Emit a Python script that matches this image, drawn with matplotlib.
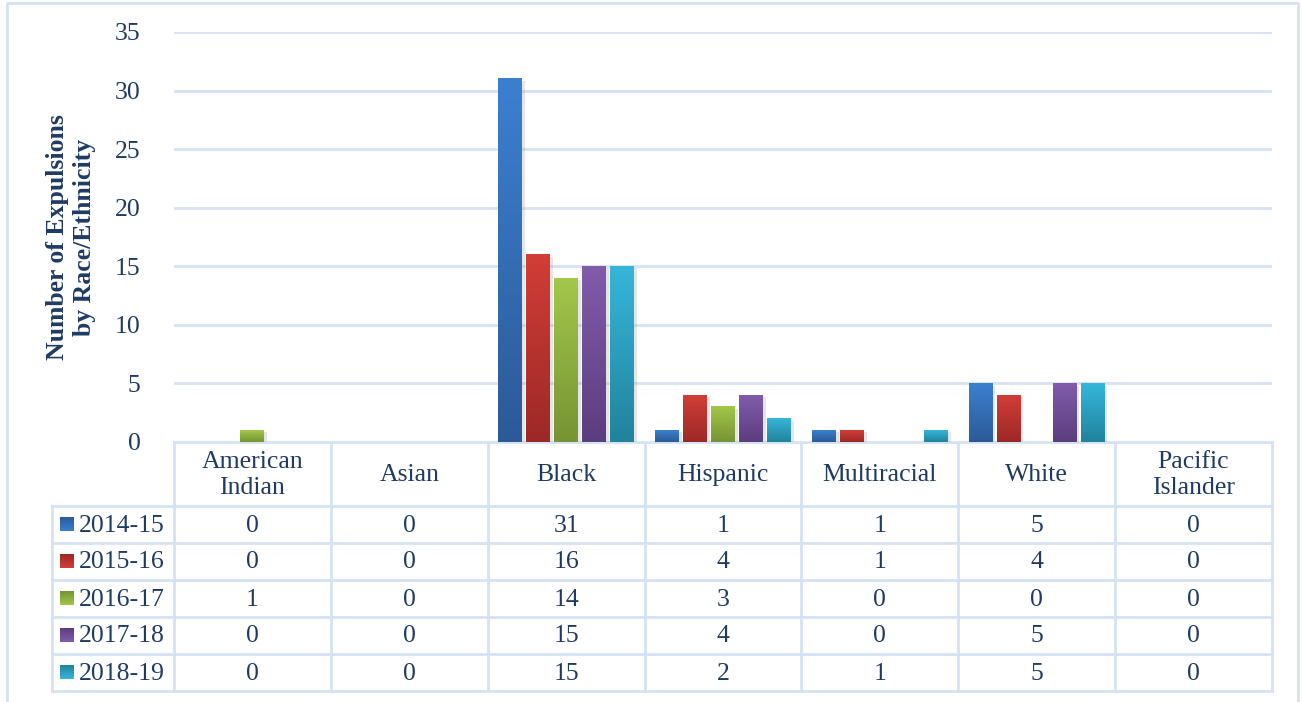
import numpy as np
import matplotlib.pyplot as plt
import matplotlib.patheffects as pe
from matplotlib.colors import LinearSegmentedColormap

# expulsions by race/ethnicity, five school years

categories = ["American\nIndian", "Asian", "Black", "Hispanic", "Multiracial", "White", "Pacific\nIslander"]
years = ["2014-15", "2015-16", "2016-17", "2017-18", "2018-19"]
v_2014 = [0, 0, 31, 1, 1, 5, 0]
v_2015 = [0, 0, 16, 4, 1, 4, 0]
v_2016 = [1, 0, 14, 3, 0, 0, 0]
v_2017 = [0, 0, 15, 4, 0, 5, 0]
v_2018 = [0, 0, 15, 2, 1, 5, 0]
series = [v_2014, v_2015, v_2016, v_2017, v_2018]

# (top colour, bottom colour) of the gradient fill
grads = [("#3b80d0", "#2c5a98"),
         ("#d23d37", "#9c2927"),
         ("#a3c74b", "#769433"),
         ("#805cab", "#5b3e7e"),
         ("#36b6da", "#21839c")]

txt = "#1f3b64"
grid_c = "#d6e2f2"
font = "Liberation Serif"
fs = 18.5

W, H = 1302, 702
fig = plt.figure(figsize=(W / 100, H / 100), dpi=100)

# pixel layout
x0, x1 = 174, 1272
y_top, y_zero = 32, 442
ax = fig.add_axes([x0 / W, 1 - y_zero / H, (x1 - x0) / W, (y_zero - y_top) / H])

n = len(categories)
x = np.arange(n)
bw = 0.153
step = 0.1785

shadow = [pe.SimplePatchShadow(offset=(2, -1.5), shadow_rgbFace="#999999", alpha=0.25), pe.Normal()]

for i, vals in enumerate(series):
    top, bot = grads[i]
    cmap = LinearSegmentedColormap.from_list("g%d" % i, [bot, top])
    bars = ax.bar(x + (i - 2) * step, vals, width=bw, color=bot, zorder=2, path_effects=shadow)
    for b in bars:
        h = b.get_height()
        if h <= 0:
            continue
        grad = np.linspace(0, 1, 100).reshape(-1, 1)
        ax.imshow(grad, extent=[b.get_x(), b.get_x() + b.get_width(), 0, h],
                  origin="lower", aspect="auto", cmap=cmap, zorder=3)

ax.set_xlim(-0.5, n - 0.5)
ax.set_ylim(0, 35)
ax.set_yticks(range(0, 36, 5))
ax.set_xticks([])
ax.yaxis.grid(True, color=grid_c, linewidth=2)
ax.set_axisbelow(True)
for s in ax.spines.values():
    s.set_visible(False)
ax.tick_params(axis="y", length=0, pad=24, labelsize=fs, labelcolor=txt)
for lab in ax.get_yticklabels():
    lab.set_fontfamily(font)

fig.text(71 / W, 1 - 237 / H, "Number of Expulsions\nby Race/Ethnicity", rotation=90,
         ha="center", va="center", fontsize=18.5, fontweight="bold", color=txt, family=font,
         linespacing=1.2)

# data table drawn in pixel space
tax = fig.add_axes([0, 0, 1, 1], zorder=-1)
tax.set_xlim(0, W)
tax.set_ylim(H, 0)
tax.axis("off")
lw = 2

col_w = (x1 - x0) / n
cols = [x0 + k * col_w for k in range(n + 1)]
rows = [442, 506, 543, 580, 617, 654, 691]
lab_x = 52

# outer chart frame
tax.plot([7, 7, 1298, 1298], [H, 3, 3, H], color=grid_c, lw=lw)

# horizontal lines
tax.plot([x0, x1], [rows[0], rows[0]], color=grid_c, lw=lw)
for r in rows[1:]:
    tax.plot([lab_x, x1], [r, r], color=grid_c, lw=lw)
for c in cols:
    tax.plot([c, c], [rows[0], rows[-1]], color=grid_c, lw=lw)
tax.plot([lab_x, lab_x], [rows[1], rows[-1]], color=grid_c, lw=lw)

for k, cat in enumerate(categories):
    cx = (cols[k] + cols[k + 1]) / 2
    tax.text(cx, (rows[0] + rows[1]) / 2 + 1, cat, ha="center", va="center", fontsize=fs,
             color=txt, family=font, linespacing=1.2)

for i, vals in enumerate(series):
    cy = (rows[i + 1] + rows[i + 2]) / 2
    top, bot = grads[i]
    cmap = LinearSegmentedColormap.from_list("l%d" % i, [bot, top])
    tax.imshow(np.linspace(0, 1, 50).reshape(-1, 1), extent=[60, 74, cy + 7, cy - 7],
               origin="upper", aspect="auto", cmap=cmap, zorder=3)
    tax.text(79, cy + 1, years[i], ha="left", va="center", fontsize=fs, color=txt, family=font)
    for k, v in enumerate(vals):
        cx = (cols[k] + cols[k + 1]) / 2
        tax.text(cx, cy + 1, str(v), ha="center", va="center", fontsize=fs, color=txt, family=font)

tax.set_xlim(0, W)
tax.set_ylim(H, 0)

fig.savefig("out.png", dpi=100)
